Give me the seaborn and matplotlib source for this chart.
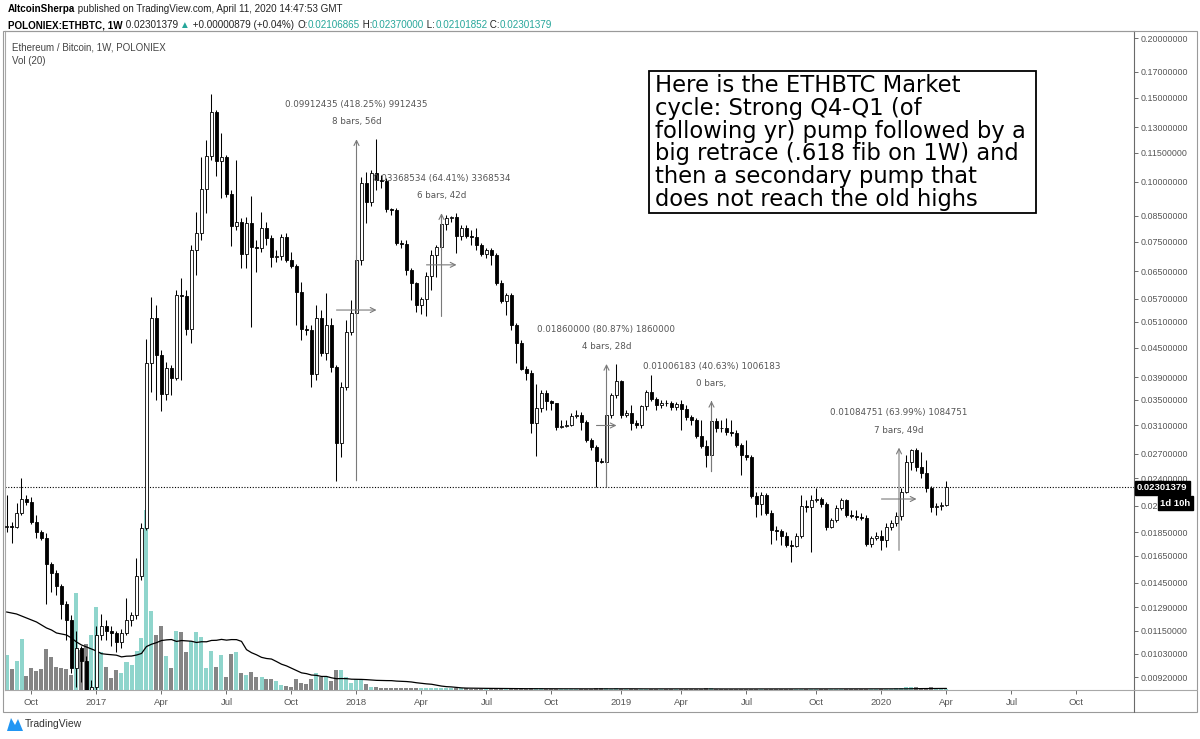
import numpy as np
import pandas as pd
import matplotlib
matplotlib.use("Agg")
import matplotlib.pyplot as plt
import matplotlib.ticker as mtick
from matplotlib.patches import Rectangle, Polygon
from matplotlib.lines import Line2D
import seaborn as sns

sns.set_theme(style="white")
plt.rcParams['font.family'] = ['DejaVu Sans']

# ── Data (weekly ETH/BTC bars) ────────────────────────────────────────────────
FIRST_WEEK = "2016-08-29"
OPEN_FIRST = 0.01900   # weekly bars open at the previous close

closes = [
    0.01910, 0.01900, 0.02030, 0.02170, 0.02140, 0.01940, 0.01850, 0.01800, 0.01590, 0.01520,
    0.01430, 0.01310, 0.01210, 0.00962, 0.01060, 0.00995, 0.00865, 0.00878, 0.01130, 0.01180,
    0.01150, 0.01140, 0.01090, 0.01140, 0.01210, 0.01240, 0.01500, 0.01890, 0.04180, 0.05200,
    0.04350, 0.03600, 0.04080, 0.03890, 0.05810, 0.05780, 0.04930, 0.07210, 0.07830, 0.09670,
    0.11330, 0.14000, 0.11060, 0.11280, 0.09440, 0.08090, 0.08250, 0.07070, 0.08210, 0.07310,
    0.07280, 0.08010, 0.07630, 0.06970, 0.07000, 0.07670, 0.06870, 0.06680, 0.05890, 0.04930,
    0.04900, 0.03970, 0.05180, 0.04390, 0.05030, 0.04100, 0.02840, 0.03720, 0.04860, 0.05320,
    0.06870, 0.09960, 0.09080, 0.10440, 0.10100, 0.10050, 0.08780, 0.08750, 0.07450, 0.07420,
    0.06550, 0.06150, 0.05530, 0.05700, 0.06360, 0.07040, 0.07310, 0.08170, 0.08410, 0.08450,
    0.07710, 0.08010, 0.07710, 0.07680, 0.07380, 0.07070, 0.07210, 0.07040, 0.06150, 0.05640,
    0.05810, 0.05030, 0.04600, 0.04060, 0.03990, 0.03130, 0.03360, 0.03620, 0.03480, 0.03450,
    0.03070, 0.03080, 0.03100, 0.03240, 0.03250, 0.03150, 0.02880, 0.02790, 0.02610, 0.02600,
    0.03250, 0.03580, 0.03830, 0.03250, 0.03280, 0.03130, 0.03100, 0.03390, 0.03630, 0.03510,
    0.03420, 0.03450, 0.03440, 0.03380, 0.03430, 0.03350, 0.03220, 0.03180, 0.02940, 0.02800,
    0.02680, 0.03160, 0.03060, 0.03050, 0.03000, 0.02990, 0.02820, 0.02680, 0.02660, 0.02200,
    0.02120, 0.02210, 0.02030, 0.01870, 0.01860, 0.01820, 0.01740, 0.01730, 0.01820, 0.02100,
    0.02090, 0.02160, 0.02170, 0.02120, 0.01900, 0.01960, 0.02080, 0.02160, 0.02010, 0.02000,
    0.01990, 0.01980, 0.01750, 0.01800, 0.01820, 0.01780, 0.01900, 0.01930, 0.02000, 0.02240,
    0.02590, 0.02750, 0.02530, 0.02460, 0.02290, 0.02090, 0.02100, 0.02106865, 0.02301379,
]

highs = [
    0.0221, 0.0194, 0.0213, 0.0240, 0.0221, 0.0219, 0.0201, 0.0187, 0.0184, 0.0160,
    0.0154, 0.0144, 0.0133, 0.0124, 0.0115, 0.0107, 0.0102, 0.00908, 0.0118, 0.0125,
    0.0121, 0.0118, 0.0115, 0.0116, 0.0135, 0.0126, 0.0163, 0.0193, 0.0469, 0.0575,
    0.0553, 0.0445, 0.0420, 0.0414, 0.0595, 0.0630, 0.0595, 0.0738, 0.0866, 0.1128,
    0.1224, 0.1527, 0.1414, 0.1266, 0.1139, 0.0962, 0.1112, 0.0841, 0.0845, 0.0935,
    0.0756, 0.0866, 0.0825, 0.0775, 0.0721, 0.0779, 0.0783, 0.0714, 0.0674, 0.0618,
    0.0503, 0.0503, 0.0553, 0.0540, 0.0587, 0.0520, 0.0414, 0.0381, 0.0515, 0.0567,
    0.0704, 0.1024, 0.1049, 0.1059, 0.1228, 0.1034, 0.1019, 0.0882, 0.0882, 0.0756,
    0.0756, 0.0661, 0.0618, 0.0575, 0.0648, 0.0721, 0.0738, 0.0853, 0.0853, 0.0850,
    0.0860, 0.0813, 0.0813, 0.0794, 0.0801, 0.0745, 0.0728, 0.0728, 0.0711, 0.0624,
    0.0587, 0.0587, 0.0508, 0.0467, 0.0412, 0.0404, 0.0378, 0.0367, 0.0367, 0.0350,
    0.0345, 0.0318, 0.0318, 0.0328, 0.0333, 0.0330, 0.0318, 0.0291, 0.0282, 0.0264,
    0.0330, 0.0362, 0.0416, 0.0385, 0.0333, 0.0342, 0.0318, 0.0342, 0.0367, 0.0395,
    0.0355, 0.0350, 0.0350, 0.0348, 0.0347, 0.0350, 0.0342, 0.0325, 0.0321, 0.0318,
    0.0288, 0.0348, 0.0321, 0.0318, 0.0321, 0.0318, 0.0303, 0.0284, 0.0288, 0.0268,
    0.0224, 0.0224, 0.0223, 0.0206, 0.0191, 0.0188, 0.0185, 0.0178, 0.0184, 0.0221,
    0.0216, 0.0221, 0.0229, 0.0219, 0.0214, 0.0198, 0.0211, 0.0218, 0.0217, 0.0206,
    0.0206, 0.0203, 0.0201, 0.0182, 0.0185, 0.0187, 0.0193, 0.0196, 0.0204, 0.0229,
    0.0268, 0.0276, 0.0278, 0.0272, 0.0262, 0.0231, 0.0213, 0.0214, 0.0237,
]

lows = [
    0.0185, 0.0176, 0.0189, 0.0201, 0.0211, 0.0192, 0.0180, 0.0178, 0.0131, 0.0139,
    0.0137, 0.0122, 0.0110, 0.00939, 0.00878, 0.00900, 0.00860, 0.00860, 0.00865, 0.0110,
    0.0110, 0.0107, 0.0104, 0.0106, 0.0113, 0.0118, 0.0122, 0.0147, 0.0187, 0.0363,
    0.0350, 0.0332, 0.0350, 0.0358, 0.0385, 0.0385, 0.0478, 0.0460, 0.0639, 0.0756,
    0.0862, 0.1112, 0.1029, 0.0926, 0.0930, 0.0734, 0.0794, 0.0661, 0.0661, 0.0498,
    0.0648, 0.0714, 0.0738, 0.0664, 0.0681, 0.0687, 0.0681, 0.0661, 0.0503, 0.0467,
    0.0478, 0.0373, 0.0385, 0.0433, 0.0424, 0.0400, 0.0237, 0.0266, 0.0367, 0.0478,
    0.0520, 0.0671, 0.0821, 0.0891, 0.0962, 0.0972, 0.0866, 0.0853, 0.0738, 0.0728,
    0.0639, 0.0567, 0.0535, 0.0530, 0.0523, 0.0595, 0.0633, 0.0721, 0.0794, 0.0825,
    0.0711, 0.0756, 0.0763, 0.0738, 0.0721, 0.0701, 0.0694, 0.0671, 0.0609, 0.0558,
    0.0527, 0.0491, 0.0418, 0.0404, 0.0385, 0.0299, 0.0267, 0.0330, 0.0333, 0.0333,
    0.0303, 0.0306, 0.0307, 0.0309, 0.0321, 0.0303, 0.0286, 0.0275, 0.0230, 0.0258,
    0.0230, 0.0321, 0.0353, 0.0321, 0.0322, 0.0303, 0.0306, 0.0306, 0.0333, 0.0348,
    0.0333, 0.0337, 0.0340, 0.0333, 0.0333, 0.0303, 0.0318, 0.0310, 0.0291, 0.0278,
    0.0253, 0.0248, 0.0300, 0.0300, 0.0296, 0.0294, 0.0279, 0.0244, 0.0262, 0.0218,
    0.0199, 0.0201, 0.0201, 0.0175, 0.0178, 0.0174, 0.0172, 0.0160, 0.0172, 0.0180,
    0.0204, 0.0168, 0.0214, 0.0209, 0.0187, 0.0189, 0.0194, 0.0206, 0.0199, 0.0198,
    0.0196, 0.0196, 0.0173, 0.0172, 0.0178, 0.01695, 0.0172, 0.0187, 0.0191, 0.0196,
    0.0223, 0.0250, 0.0248, 0.0240, 0.0225, 0.0204, 0.0201, 0.0206, 0.02101852,
]

# volume in arbitrary units (no scale is shown on the chart)
volume = [
    35, 21, 29, 51, 14, 22, 19, 21, 41, 33,
    23, 22, 21, 15, 97, 40, 46, 55, 83, 38,
    23, 12, 20, 17, 28, 25, 39, 52, 180, 79,
    55, 64, 34, 22, 59, 58, 38, 49, 58, 53,
    22, 39, 23, 35, 13, 36, 38, 17, 15, 18,
    13, 13, 11, 11, 9, 5, 4, 3, 11, 7,
    6, 11, 17, 13, 13, 9, 20, 20, 13, 7,
    11, 11, 6, 3, 3, 2, 2, 2, 2, 2,
    2, 2, 2, 2, 1.5, 1.5, 1.5, 2, 1.5, 1.5,
    1.5, 1.5, 1.5, 1.2, 1.2, 1.2, 1.2, 1, 1.2, 1.2,
    1, 1, 1.2, 1.5, 1, 1.5, 2, 1.5, 1, 1,
    1, 1, 1, 1, 1, 1, 1, 1.2, 1.5, 1.5,
    1.5, 1.2, 1.5, 1.2, 1, 1, 1, 1, 1.2, 1.2,
    1, 1, 1, 1, 1, 1, 1, 1, 1, 1,
    1.5, 1.5, 1, 1, 1, 1, 1, 1, 1, 1,
    1, 1, 1, 1, 1, 1, 1, 1, 1, 1,
    1, 1, 1, 1, 1, 1, 1, 1, 1, 1,
    1, 1, 1, 1, 1, 1, 1.2, 1.2, 1.5, 2,
    2.5, 3, 2.5, 2, 2, 2.5, 1.5, 1.2, 1,
]
# Vol MA(20) for the first weeks (window reaches back before the chart)
vol_ma_head = [78, 77, 76, 74, 72, 70, 68, 65, 62, 60, 57, 56, 55, 52, 48, 45, 43, 41, 39]

price_ticks = [0.2, 0.17, 0.15, 0.13, 0.115, 0.1, 0.085, 0.075, 0.065, 0.057, 0.051,
               0.045, 0.039, 0.035, 0.031, 0.027, 0.024, 0.021, 0.0185, 0.0165,
               0.0145, 0.0129, 0.0115, 0.0103, 0.0092]

time_labels = [("2016-10-01", "Oct"), ("2017-01-01", "2017"), ("2017-04-01", "Apr"),
               ("2017-07-01", "Jul"), ("2017-10-01", "Oct"), ("2018-01-01", "2018"),
               ("2018-04-01", "Apr"), ("2018-07-01", "Jul"), ("2018-10-01", "Oct"),
               ("2019-01-01", "2019"), ("2019-04-01", "Apr"), ("2019-07-01", "Jul"),
               ("2019-10-01", "Oct"), ("2020-01-01", "2020"), ("2020-04-01", "Apr"),
               ("2020-07-01", "Jul"), ("2020-10-01", "Oct")]

# price-range measurements: start bar, end bar, low, high, two label lines
measures = [
    (66, 74, 0.0237, 0.1228, "0.09912435 (418.25%) 9912435", "8 bars, 56d"),
    (84, 90, 0.0523, 0.0860, "0.03368534 (64.41%) 3368534", "6 bars, 42d"),
    (118, 122, 0.0230, 0.0416, "0.01860000 (80.87%) 1860000", "4 bars, 28d"),
    (141, 141, 0.02476, 0.03482, "0.01006183 (40.63%) 1006183", "0 bars,"),
    (175, 182, 0.01695, 0.0278, "0.01084751 (63.99%) 1084751", "7 bars, 49d"),
]

note_text = ("Here is the ETHBTC Market\n"
             "cycle: Strong Q4-Q1 (of\n"
             "following yr) pump followed by a\n"
             "big retrace (.618 fib on 1W) and\n"
             "then a secondary pump that\n"
             "does not reach the old highs")

# ── Derived series ────────────────────────────────────────────────────────────
closes = np.array(closes)
highs = np.array(highs)
lows = np.array(lows)
opens = np.r_[OPEN_FIRST, closes[:-1]]
n = len(closes)
idx = np.arange(n)
up = closes >= opens

weeks = pd.date_range(FIRST_WEEK, periods=n + 40, freq="7D")
tick_pos = [int(np.searchsorted(weeks, pd.Timestamp(d))) for d, _ in time_labels]
tick_lab = [lab for _, lab in time_labels]

vol_ma = pd.Series(volume, dtype=float).rolling(20).mean()
vol_ma.iloc[:len(vol_ma_head)] = vol_ma_head

TEAL = '#26a69a'
VOL_UP, VOL_DN = '#8fd5cc', '#858585'
MEAS = '#7a7a7a'
TXT = '#555555'
NARROW = ['Liberation Sans', 'DejaVu Sans']

# ── Figure ────────────────────────────────────────────────────────────────────
W, H = 1200, 739
fig = plt.figure(figsize=(W / 100, H / 100), dpi=100)
fig.patch.set_facecolor('white')


def fx(px):
    return px / W


def fy(py):
    return 1 - py / H


rect = [fx(5), fy(690), fx(1134) - fx(5), fy(31) - fy(690)]
XLIM = (-0.3, 225.5)

# volume pane (behind the candles)
ax_vol = fig.add_axes(rect)
ax_vol.bar(idx, volume, width=0.8, color=np.where(up, VOL_UP, VOL_DN), linewidth=0)
sns.lineplot(x=idx, y=vol_ma.values, ax=ax_vol, color='black', lw=0.9)
ax_vol.set_xlim(*XLIM)
ax_vol.set_ylim(0, max(volume) * 3.66)
ax_vol.axis('off')

# price pane
ax = fig.add_axes(rect)
ax.patch.set_alpha(0)
ax.set_yscale('log')
ax.vlines(idx, lows, highs, color='black', lw=0.75, zorder=2)
ax.bar(idx, np.abs(closes - opens), bottom=np.minimum(opens, closes), width=0.7,
       color=np.where(up, 'white', 'black'), edgecolor='black', linewidth=0.6, zorder=3)
ax.set_xlim(*XLIM)
ax.set_ylim(0.00865, 0.2069)

ax.yaxis.tick_right()
ax.set_yticks(price_ticks)
ax.set_yticklabels([f"{t:.8f}" for t in price_ticks], family=NARROW)
ax.yaxis.set_minor_locator(mtick.NullLocator())
ax.yaxis.set_minor_formatter(mtick.NullFormatter())
ax.tick_params(axis='y', which='major', right=True, left=False, direction='out',
               length=3, width=0.6, colors=TXT, labelsize=6.4, pad=2)
ax.set_xticks(tick_pos)
ax.set_xticklabels(tick_lab, family=NARROW)
ax.tick_params(axis='x', bottom=True, direction='out', length=3, width=0.6,
               colors=TXT, labelsize=6.8, pad=3)
for side in ['left', 'top', 'bottom']:
    ax.spines[side].set_color('#a8a8a8')
    ax.spines[side].set_linewidth(0.8)
ax.spines['right'].set_color('#6a6a6a')
ax.spines['right'].set_linewidth(0.8)

# last price line
last = closes[-1]
ax.axhline(last, color='black', lw=0.8, ls=(0, (1, 1.5)), zorder=1)

# measurement arrows + labels
arrow_kw = dict(arrowstyle='->', color=MEAS, lw=0.8, shrinkA=0, shrinkB=0, mutation_scale=9)
for s, e, lo, hi, t1, t2 in measures:
    mid = (s + e) / 2
    ax.annotate('', xy=(mid, hi), xytext=(mid, lo), arrowprops=arrow_kw, zorder=4)
    if e > s:
        ym = np.sqrt(lo * hi)
        ax.annotate('', xy=(e, ym), xytext=(s, ym), arrowprops=arrow_kw, zorder=4)
    ax.annotate(t1, xy=(mid, hi), xytext=(0, 25), textcoords='offset points',
                ha='center', va='center', fontsize=6.3, color=TXT, zorder=5)
    ax.annotate(t2, xy=(mid, hi), xytext=(0, 12.5), textcoords='offset points',
                ha='center', va='center', fontsize=6.3, color=TXT, zorder=5)

# chart titles inside the pane
fig.text(fx(12), fy(47), "Ethereum / Bitcoin, 1W, POLONIEX", fontsize=7,
         color='#444444', va='center', family=NARROW)
fig.text(fx(12), fy(61), "Vol (20)", fontsize=7, color='#444444', va='center',
         family=NARROW)

# note box
fig.add_artist(Rectangle((fx(649), fy(213)), fx(1036) - fx(649), fy(71) - fy(213),
                         transform=fig.transFigure, facecolor='white',
                         edgecolor='black', lw=1.3, zorder=5))
fig.text(fx(655), fy(74), note_text, ha='left', va='top', fontsize=16.3,
         linespacing=0.99, color='black', zorder=6)

# outer frame / axis boxes
fig.add_artist(Rectangle((fx(3), fy(712)), fx(1197) - fx(3), fy(31) - fy(712),
                         transform=fig.transFigure, fill=False, ec='#9a9a9a', lw=0.8))
fig.add_artist(Line2D([fx(1134), fx(1134)], [fy(690), fy(712)], color='#6a6a6a', lw=0.8))
fig.add_artist(Line2D([fx(1134), fx(1197)], [fy(690), fy(690)], color='#a8a8a8', lw=0.8))

# price labels on the right scale
fig.text(fx(1137), fy(488), f"{last:.8f}", color='white', fontsize=6.8,
         fontweight='bold', va='center', ha='left', family=NARROW, zorder=7,
         bbox=dict(boxstyle='square,pad=0.25', fc='black', ec='black'))
fig.text(fx(1160), fy(503), "1d 10h", color='white', fontsize=6.8,
         fontweight='bold', va='center', ha='left', family=NARROW, zorder=7,
         bbox=dict(boxstyle='square,pad=0.25', fc='black', ec='black'))

# header lines with mixed styles
fig.canvas.draw()
renderer = fig.canvas.get_renderer()


def text_run(x_px, y_px, parts, size=7.1):
    x = fx(x_px)
    for s, color, weight in parts:
        t = fig.text(x, fy(y_px), s, color=color, fontweight=weight, fontsize=size,
                     va='center', ha='left', family=NARROW)
        x = t.get_window_extent(renderer).x1 / W


text_run(8, 9, [("AltcoinSherpa", 'black', 'bold'),
                (" published on TradingView.com, April 11, 2020 14:47:53 GMT", '#222222', 'normal')])
text_run(8, 25, [("POLONIEX:ETHBTC, 1W", 'black', 'bold'),
                 (" 0.02301379 ", '#222222', 'normal'), ("\u25b2", TEAL, 'normal'),
                 (" +0.00000879 (+0.04%) ", '#222222', 'normal'),
                 ("O:", '#222222', 'normal'), ("0.02106865", TEAL, 'normal'),
                 (" H:", '#222222', 'normal'), ("0.02370000", TEAL, 'normal'),
                 (" L:", '#222222', 'normal'), ("0.02101852", TEAL, 'normal'),
                 (" C:", '#222222', 'normal'), ("0.02301379", TEAL, 'normal')])

# TradingView logo
fig.add_artist(Polygon([(fx(7), fy(731)), (fx(11), fy(718)), (fx(15), fy(725)),
                        (fx(18), fy(719)), (fx(23), fy(731))], closed=True,
                       transform=fig.transFigure, fc='#2196f3', ec='none'))
fig.text(fx(25), fy(724), "TradingView", fontsize=7.5, color='#333333',
         va='center', ha='left', family=NARROW)

fig.savefig("out.png", dpi=100, facecolor='white')
